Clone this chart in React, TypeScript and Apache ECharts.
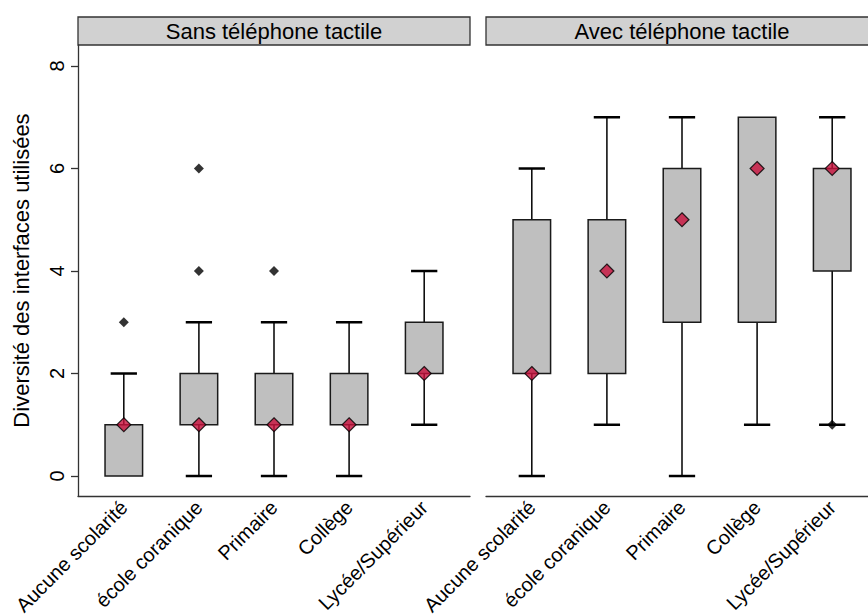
import React, { useEffect, useRef } from "react";
import * as echarts from "echarts";

const categories = ["Aucune scolarité", "école coranique", "Primaire", "Collège", "Lycée/Supérieur"];
const panels = ["Sans téléphone tactile", "Avec téléphone tactile"];

// [min, Q1, median, Q3, max]
const sansStats = [
  [0, 0, 1, 1, 2],
  [0, 1, 1, 2, 3],
  [0, 1, 1, 2, 3],
  [0, 1, 1, 2, 3],
  [1, 2, 2, 3, 4],
];
const avecStats = [
  [0, 2, 2, 5, 6],
  [1, 2, 4, 5, 7],
  [0, 3, 5, 6, 7],
  [1, 3, 6, 7, 7],
  [1, 4, 6, 6, 7],
];
// [categoryIndex (1-based), value]
const sansOutliers = [
  [1, 3],
  [2, 4],
  [2, 6],
  [3, 4],
];
const avecOutliers = [[5, 1]];
const yTicks = [0, 2, 4, 6, 8];
const xPositions = [1, 2, 3, 4, 5];

const FONT = "Liberation Sans, Arial, sans-serif";
const BOX_HALF = 0.25;
const CAP_HALF = 0.175;

function boxData(stats: number[][]) {
  return stats.map((s, i) => [xPositions[i], ...s]);
}

function renderBox(params: any, api: any) {
  const x = api.value(0);
  const mn = api.value(1);
  const q1 = api.value(2);
  const q3 = api.value(4);
  const mx = api.value(5);
  const pMin = api.coord([x, mn]);
  const pQ1 = api.coord([x, q1]);
  const pQ3 = api.coord([x, q3]);
  const pMax = api.coord([x, mx]);
  const left = api.coord([x - BOX_HALF, q3]);
  const right = api.coord([x + BOX_HALF, q1]);
  const capL = api.coord([x - CAP_HALF, mn])[0];
  const capR = api.coord([x + CAP_HALF, mn])[0];
  const children: any[] = [];
  const ls = { stroke: "#000", lineWidth: 1.5 };
  const cs = { stroke: "#000", lineWidth: 2.5 };
  if (mn < q1) {
    children.push({ type: "line", shape: { x1: pMin[0], y1: pMin[1], x2: pQ1[0], y2: pQ1[1] }, style: ls });
    children.push({ type: "line", shape: { x1: capL, y1: pMin[1], x2: capR, y2: pMin[1] }, style: cs });
  }
  if (mx > q3) {
    children.push({ type: "line", shape: { x1: pQ3[0], y1: pQ3[1], x2: pMax[0], y2: pMax[1] }, style: ls });
    children.push({ type: "line", shape: { x1: capL, y1: pMax[1], x2: capR, y2: pMax[1] }, style: cs });
  }
  children.push({
    type: "rect",
    shape: { x: left[0], y: left[1], width: right[0] - left[0], height: right[1] - left[1] },
    style: { fill: "#BFBFBF", stroke: "#1a1a1a", lineWidth: 1.5 },
  });
  return { type: "group", children };
}

export default function App() {
  const ref = useRef<HTMLDivElement>(null);
  useEffect(() => {
    if (!ref.current) return;
    const chart = echarts.init(ref.current, null, { renderer: "svg" });
    const yMin = -0.39;
    const yMax = 8.41;
    const xMin = 0.39;
    const xMax = 5.61;
    const xAxisCommon = (gridIndex: number) => ({
      type: "value",
      gridIndex,
      min: xMin,
      max: xMax,
      splitLine: { show: false },
      axisLine: { show: true, onZero: false, lineStyle: { color: "#333", width: 1.3 } },
      axisTick: { show: false },
      axisLabel: {
        customValues: xPositions,
        rotate: 45,
        margin: 8,
        fontSize: 20,
        fontFamily: FONT,
        color: "#000",
        formatter: (v: number) => categories[Math.round(v) - 1] ?? "",
      },
    });
    const option: any = {
      animation: false,
      grid: [
        { left: 78, top: 45, width: 392, height: 451, containLabel: false, outerBoundsMode: "none" },
        { left: 486, top: 45, width: 392, height: 451, containLabel: false, outerBoundsMode: "none" },
      ],
      xAxis: [xAxisCommon(0), xAxisCommon(1)],
      yAxis: [
        {
          type: "value",
          gridIndex: 0,
          min: yMin,
          max: yMax,
          name: "Diversité des interfaces utilisées",
          nameLocation: "middle",
          nameRotate: 90,
          nameGap: 46,
          nameTextStyle: { fontSize: 22, fontFamily: FONT, color: "#000" },
          splitLine: { show: false },
          axisLine: { show: true, lineStyle: { color: "#333", width: 1.3 } },
          axisTick: { show: true, customValues: yTicks, length: 7, lineStyle: { color: "#333", width: 1.3 } },
          axisLabel: {
            customValues: yTicks,
            rotate: 90,
            margin: 11,
            fontSize: 20,
            fontFamily: FONT,
            color: "#000",
          },
        },
        {
          type: "value",
          gridIndex: 1,
          min: yMin,
          max: yMax,
          show: false,
          splitLine: { show: false },
        },
      ],
      graphic: [
        {
          type: "rect",
          shape: { x: 78, y: 17, width: 392, height: 28 },
          style: { fill: "#D1D1D1", stroke: "#333", lineWidth: 1.3 },
        },
        {
          type: "text",
          x: 274,
          y: 31,
          style: { text: panels[0], fontSize: 22, fontFamily: FONT, fill: "#000", align: "center", verticalAlign: "middle" },
        },
        {
          type: "rect",
          shape: { x: 486, y: 17, width: 392, height: 28 },
          style: { fill: "#D1D1D1", stroke: "#333", lineWidth: 1.3 },
        },
        {
          type: "text",
          x: 682,
          y: 31,
          style: { text: panels[1], fontSize: 22, fontFamily: FONT, fill: "#000", align: "center", verticalAlign: "middle" },
        },
      ],
      series: [
        { type: "custom", xAxisIndex: 0, yAxisIndex: 0, renderItem: renderBox, data: boxData(sansStats), silent: true },
        { type: "custom", xAxisIndex: 1, yAxisIndex: 1, renderItem: renderBox, data: boxData(avecStats), silent: true },
        {
          type: "scatter", xAxisIndex: 0, yAxisIndex: 0, symbol: "diamond", symbolSize: 10,
          itemStyle: { color: "#000" }, data: sansOutliers, z: 5,
        },
        {
          type: "scatter", xAxisIndex: 1, yAxisIndex: 1, symbol: "diamond", symbolSize: 10,
          itemStyle: { color: "#000" }, data: avecOutliers, z: 5,
        },
        {
          type: "scatter", xAxisIndex: 0, yAxisIndex: 0, symbol: "diamond", symbolSize: 14,
          itemStyle: { color: "#C8103C", borderColor: "#000", borderWidth: 1.2 },
          data: sansStats.map((s, i) => [xPositions[i], s[2]]), z: 6,
        },
        {
          type: "scatter", xAxisIndex: 1, yAxisIndex: 1, symbol: "diamond", symbolSize: 14,
          itemStyle: { color: "#C8103C", borderColor: "#000", borderWidth: 1.2 },
          data: avecStats.map((s, i) => [xPositions[i], s[2]]), z: 6,
        },
      ],
    };
    chart.setOption(option);
    return () => chart.dispose();
  }, []);
  return (
    <div
      ref={ref}
      style={{ position: "fixed", left: 0, top: 0, width: 868, height: 615, background: "#fff" }}
    />
  );
}
